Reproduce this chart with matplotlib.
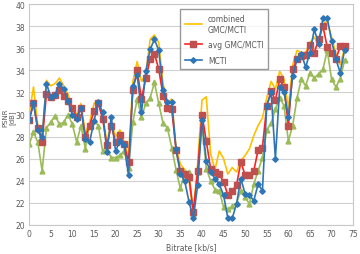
import numpy as np
import matplotlib
matplotlib.use("Agg")
import matplotlib.pyplot as plt

# bitrate [kb/s]
bitrate = np.arange(0, 74)

# PSNR [dB]
combined = [30.0, 32.5, 29.0, 27.8, 33.1, 32.6, 32.8, 33.3, 32.6, 31.8,
            30.5, 30.0, 31.0, 28.3, 29.3, 31.0, 31.3, 30.0, 27.5, 29.3,
            28.0, 28.6, 27.5, 26.0, 33.0, 34.8, 33.0, 33.6, 36.8, 37.2,
            36.5, 32.8, 31.1, 31.4, 27.0, 25.5, 25.0, 24.0, 21.0, 25.5,
            31.3, 31.6, 26.5, 25.0, 26.7, 26.0, 24.6, 25.2, 24.8, 25.8,
            26.3, 26.9, 28.1, 29.0, 29.7, 31.5, 33.0, 32.3, 33.9, 33.2,
            30.5, 34.5, 35.8, 35.6, 35.6, 36.5, 37.0, 36.3, 38.2, 38.5,
            37.0, 35.5, 34.5, 36.0]
avg_gmc = [29.5, 31.0, 28.8, 27.5, 31.9, 31.6, 31.8, 32.2, 31.7, 31.2,
           30.6, 29.8, 30.6, 28.0, 29.0, 30.3, 31.0, 29.6, 27.2, 29.0,
           27.5, 28.1, 27.3, 25.7, 32.2, 34.0, 31.4, 33.3, 35.0, 35.5,
           34.1, 31.7, 30.6, 30.5, 26.8, 24.9, 24.6, 24.3, 21.2, 24.9,
           30.0, 27.6, 25.1, 24.8, 24.6, 23.9, 22.7, 23.1, 23.6, 25.7,
           24.5, 24.5, 24.9, 26.8, 27.0, 30.8, 32.1, 31.3, 33.2, 32.5,
           29.0, 34.1, 35.0, 35.3, 35.4, 36.3, 35.6, 36.8, 38.0, 36.1,
           35.6, 35.0, 36.2, 36.2]
mcti = [29.5, 31.0, 28.6, 28.0, 32.8, 31.6, 31.8, 32.8, 32.3, 31.2,
        30.0, 29.6, 30.6, 27.8, 27.5, 29.4, 31.1, 30.2, 26.6, 29.8,
        26.7, 27.6, 27.2, 24.5, 32.6, 33.6, 30.2, 33.9, 35.9, 36.8,
        35.8, 32.2, 31.1, 31.1, 26.9, 24.6, 24.0, 22.1, 20.6, 23.6,
        29.5, 25.8, 24.8, 24.2, 23.7, 22.7, 20.6, 20.6, 21.9, 24.2,
        22.8, 22.7, 22.2, 23.7, 23.1, 30.8, 32.0, 26.0, 32.5, 32.0,
        29.8, 33.5, 35.0, 35.5, 34.3, 35.6, 37.7, 36.4, 38.7, 38.7,
        36.7, 35.0, 33.8, 35.8]
gmc = [27.3, 28.4, 27.5, 24.9, 28.8, 29.3, 29.9, 29.1, 29.3, 30.0,
       29.1, 27.5, 29.0, 26.9, 29.2, 29.5, 29.0, 26.7, 26.8, 26.1,
       26.1, 26.3, 26.7, 25.2, 29.3, 31.4, 29.8, 31.0, 31.5, 32.9,
       31.0, 29.2, 28.8, 27.0, 25.0, 23.3, 24.8, 24.8, 21.0, 24.8,
       29.0, 25.1, 24.0, 23.2, 23.1, 21.6, 21.4, 21.7, 22.0, 23.1,
       22.5, 21.9, 23.7, 24.9, 26.1, 28.6, 29.2, 30.5, 31.5, 30.8,
       27.6, 29.0, 31.5, 33.2, 32.6, 33.8, 33.3, 33.7, 34.1, 35.8,
       33.2, 32.5, 33.2, 34.9]

fig = plt.figure(figsize=(3.6, 2.55), dpi=100)
ax = fig.add_axes([0.081, 0.114, 0.9, 0.866])

ax.plot(bitrate, gmc, color="#9BBB59", lw=1.2, marker="^", ms=3.5)
ax.plot(bitrate, combined, color="#FFC000", lw=1.2, label="combined\nGMC/MCTI")
ax.plot(bitrate, avg_gmc, color="#FF2020", lw=1.2, marker="s", ms=4,
        mfc="#C0504D", mec="#C0504D", label="avg GMC/MCTI")
ax.plot(bitrate, mcti, color="#2E75B6", lw=1.2, marker="D", ms=2.8,
        label="MCTI")

ax.set_xlim(0, 75)
ax.set_ylim(20, 40)
ax.set_xticks(np.arange(0, 76, 5))
ax.set_yticks(np.arange(20, 41, 2))
ax.tick_params(labelsize=5.5, length=0, colors="#595959", pad=3)
ax.grid(axis="y", color="#D0D0D0", lw=0.8)
ax.set_axisbelow(True)
for s in ax.spines.values():
    s.set_color("#C8C8C8")
    s.set_linewidth(0.8)

ax.set_xlabel("Bitrate [kb/s]", fontsize=5.5, color="#595959", labelpad=3)
fig.text(0.024, 0.54, "PSNR\n[dB]", rotation=90, fontsize=5,
         color="#595959", ha="center", va="center", linespacing=1.1)

leg = ax.legend(loc="upper left", bbox_to_anchor=(0.455, 0.995), fontsize=5.5,
                frameon=True, fancybox=False, edgecolor="#808080",
                labelspacing=0.9, handlelength=2.2, borderpad=0.6)
for t in leg.get_texts():
    t.set_color("#595959")

fig.savefig("out.png", dpi=100)
